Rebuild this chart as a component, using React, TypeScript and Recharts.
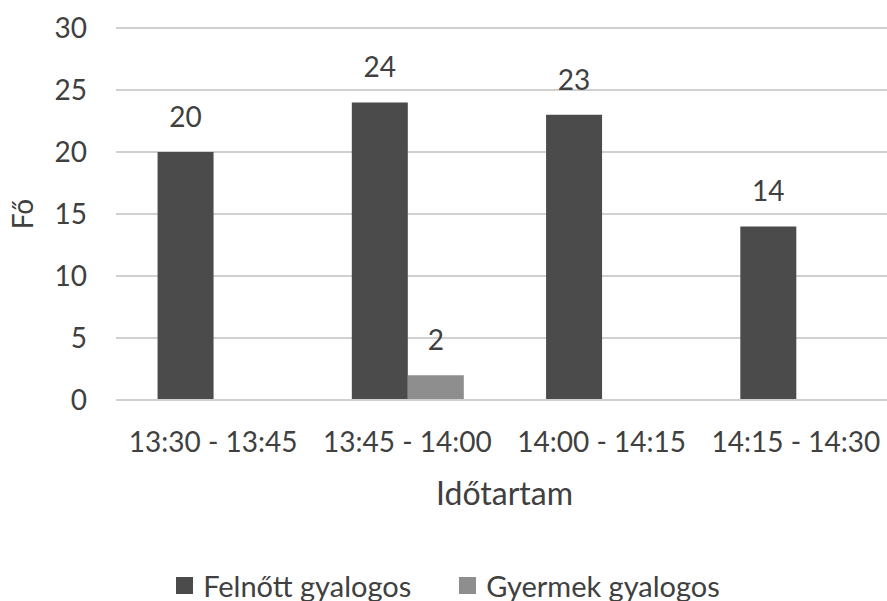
import React from 'react';
import { BarChart, Bar, XAxis, YAxis, CartesianGrid, LabelList, Legend } from 'recharts';

const categories = ['13:30 - 13:45', '13:45 - 14:00', '14:00 - 14:15', '14:15 - 14:30'];
const felnott = [20, 24, 23, 14];
const gyermek = [0, 2, 0, 0];
const yTicks = [0, 5, 10, 15, 20, 25, 30];
const seriesNames = ['Felnőtt gyalogos', 'Gyermek gyalogos'];
const seriesColors = ['#4b4b4b', '#8e8e8e'];

const data = categories.map((c, i) => ({ name: c, a: felnott[i], b: gyermek[i] }));

const FONT = 'Lato, "Open Sans", sans-serif';
const TXT = '#404040';

const hideZero = (v: any) => (v === 0 ? '' : v);

const LegendContent = () => (
  <div style={{ display: 'flex', justifyContent: 'center', alignItems: 'center', fontFamily: FONT, fontSize: 29, lineHeight: '29px', color: TXT }}>
    {seriesNames.map((n, i) => (
      <div key={n} style={{ display: 'flex', alignItems: 'center', marginLeft: i === 0 ? 0 : 48 }}>
        <div style={{ width: 17, height: 17, background: seriesColors[i], marginRight: 10 }} />
        <span>{n}</span>
      </div>
    ))}
  </div>
);

const YLabel = (props: any) => {
  const vb = props.viewBox || { x: 0, y: 0, width: 0, height: 0 };
  const x = vb.x + 33;
  const y = vb.y + vb.height / 2;
  return (
    <text x={x} y={y} transform={`rotate(-90, ${x}, ${y})`} textAnchor="middle" fill={TXT} fontFamily={FONT} fontSize={28}>
      Fő
    </text>
  );
};

export default function App() {
  return (
    <div style={{ position: 'absolute', left: 0, top: 0, width: 887, height: 601, overflow: 'hidden', background: '#fff' }}>
      <BarChart width={893} height={601} data={data} margin={{ top: 28, right: 0, bottom: 0, left: 0 }} barGap={0} barCategoryGap="21.4%">
        <CartesianGrid vertical={false} stroke="#d0d0d0" strokeWidth={2} />
        <XAxis
          dataKey="name"
          height={201}
          tickLine={false}
          tickSize={6}
          tickMargin={26}
          axisLine={{ stroke: '#d0d0d0', strokeWidth: 2 }}
          tick={{ fill: TXT, fontFamily: FONT, fontSize: 28 }}
          label={{ value: 'Időtartam', position: 'insideTop', offset: 82, fill: TXT, fontFamily: FONT, fontSize: 32 }}
        />
        <YAxis
          width={116}
          domain={[0, 30]}
          ticks={yTicks}
          axisLine={false}
          tickLine={false}
          tickSize={6}
          tickMargin={23}
          tick={{ fill: TXT, fontFamily: FONT, fontSize: 28 }}
          label={<YLabel />}
        />
        <Legend verticalAlign="middle" layout="horizontal" wrapperStyle={{ top: 571, left: 0, width: 896 }} content={<LegendContent />} />
        <Bar dataKey="a" name={seriesNames[0]} fill={seriesColors[0]} isAnimationActive={false}>
          <LabelList dataKey="a" position="top" offset={25} formatter={hideZero} fill={TXT} fontFamily={FONT} fontSize={28} />
        </Bar>
        <Bar dataKey="b" name={seriesNames[1]} fill={seriesColors[1]} isAnimationActive={false}>
          <LabelList dataKey="b" position="top" offset={25} formatter={hideZero} fill={TXT} fontFamily={FONT} fontSize={28} />
        </Bar>
      </BarChart>
    </div>
  );
}
